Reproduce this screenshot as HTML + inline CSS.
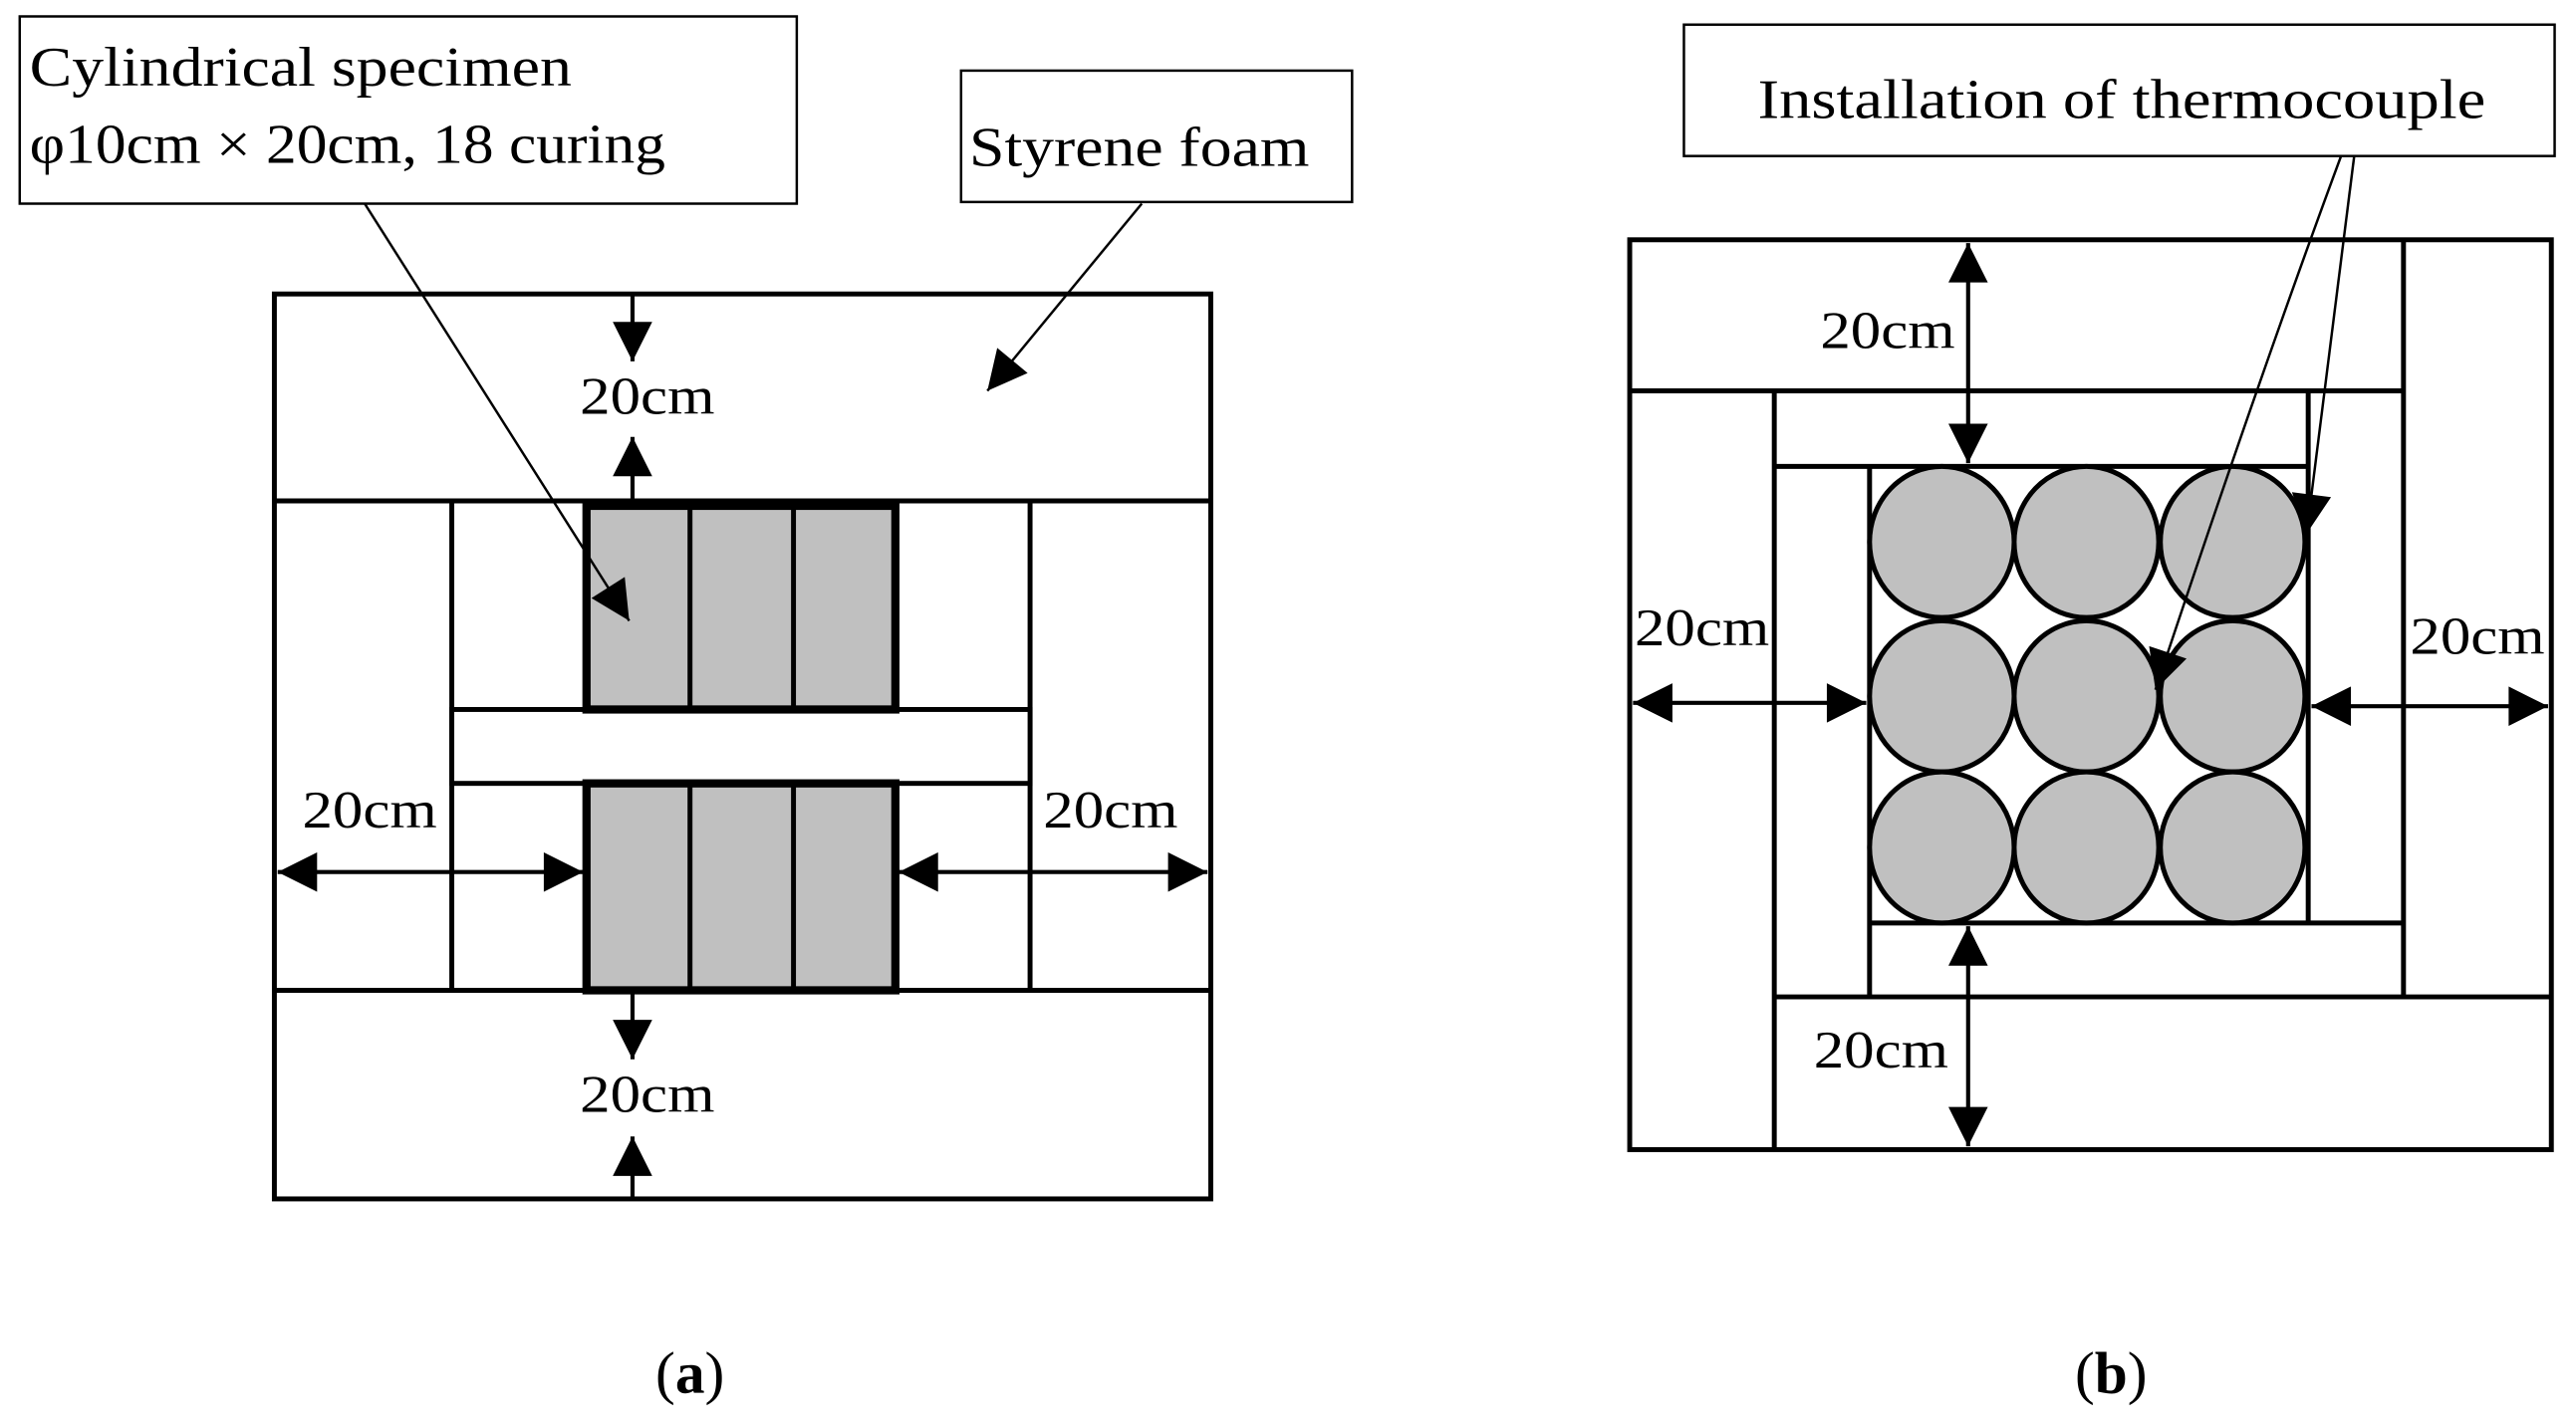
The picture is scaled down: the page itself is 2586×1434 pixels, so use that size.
<!DOCTYPE html>
<html><head><meta charset="utf-8"><style>
html,body{margin:0;padding:0;background:#fff;}
svg{display:block;}
text{font-family:"Liberation Serif",serif;fill:#000;}
</style></head><body>
<svg width="2586" height="1434" viewBox="0 0 1568 869.5" xmlns="http://www.w3.org/2000/svg">
<defs>
<marker id="big" viewBox="0 0 10 10" refX="10" refY="5" markerWidth="30" markerHeight="24" orient="auto-start-reverse" markerUnits="userSpaceOnUse"><path d="M0,0L10,5L0,10z" fill="#000"/></marker>
</defs>
<!-- (a) -->
<rect x="12" y="10" width="473" height="114" fill="#fff" stroke="#000" stroke-width="1.5"/>
<text x="18" y="52" font-size="34" textLength="330" lengthAdjust="spacingAndGlyphs">Cylindrical specimen</text>
<text x="18" y="99" font-size="34" textLength="387" lengthAdjust="spacingAndGlyphs">φ10cm × 20cm, 18 curing</text>
<rect x="585" y="43" width="238" height="80" fill="#fff" stroke="#000" stroke-width="1.5"/>
<text x="590" y="101" font-size="34" textLength="207" lengthAdjust="spacingAndGlyphs">Styrene foam</text>

<rect x="167" y="179" width="570" height="551" fill="none" stroke="#000" stroke-width="3"/>
<line x1="167" y1="305" x2="737" y2="305" stroke="#000" stroke-width="3"/>
<line x1="167" y1="603" x2="737" y2="603" stroke="#000" stroke-width="3"/>
<line x1="275" y1="305" x2="275" y2="603" stroke="#000" stroke-width="3"/>
<line x1="627" y1="305" x2="627" y2="603" stroke="#000" stroke-width="3"/>
<rect x="275" y="432" width="352" height="45" fill="#fff" stroke="#000" stroke-width="3"/>
<rect x="357" y="308" width="188" height="124" fill="#c0c0c0" stroke="#000" stroke-width="5"/>
<rect x="357" y="477" width="188" height="126" fill="#c0c0c0" stroke="#000" stroke-width="5"/>
<g stroke="#000" stroke-width="3">
<line x1="420" y1="308" x2="420" y2="432"/><line x1="483" y1="308" x2="483" y2="432"/>
<line x1="420" y1="477" x2="420" y2="603"/><line x1="483" y1="477" x2="483" y2="603"/>
</g>
<g stroke="#000" stroke-width="2.5">
<line x1="385" y1="179" x2="385" y2="220" marker-end="url(#big)"/>
<line x1="385" y1="305" x2="385" y2="266" marker-end="url(#big)"/>
<line x1="385" y1="603" x2="385" y2="645" marker-end="url(#big)"/>
<line x1="385" y1="730" x2="385" y2="692" marker-end="url(#big)"/>
<line x1="169" y1="531" x2="355" y2="531" marker-start="url(#big)" marker-end="url(#big)"/>
<line x1="547" y1="531" x2="735" y2="531" marker-start="url(#big)" marker-end="url(#big)"/>
</g>
<text x="353" y="252" font-size="32" textLength="82" lengthAdjust="spacingAndGlyphs">20cm</text>
<text x="353" y="677" font-size="32" textLength="82" lengthAdjust="spacingAndGlyphs">20cm</text>
<text x="184" y="504" font-size="32" textLength="82" lengthAdjust="spacingAndGlyphs">20cm</text>
<text x="635" y="504" font-size="32" textLength="82" lengthAdjust="spacingAndGlyphs">20cm</text>
<g stroke="#000" stroke-width="1.5">
<line x1="222" y1="124" x2="383" y2="378" marker-end="url(#big)"/>
<line x1="695" y1="124" x2="601" y2="238" marker-end="url(#big)"/>
</g>
<text x="420" y="848" font-size="36" text-anchor="middle">(<tspan font-weight="bold">a</tspan>)</text>

<!-- (b) -->
<rect x="1025" y="15" width="530" height="80" fill="#fff" stroke="#000" stroke-width="1.5"/>
<text x="1070" y="72" font-size="34" textLength="443" lengthAdjust="spacingAndGlyphs">Installation of thermocouple</text>
<rect x="992" y="146" width="561" height="554" fill="none" stroke="#000" stroke-width="3"/>
<g stroke="#000" stroke-width="3">
<line x1="992" y1="238" x2="1463" y2="238"/>
<line x1="1463" y1="146" x2="1463" y2="607"/>
<line x1="1080" y1="238" x2="1080" y2="700"/>
<line x1="1080" y1="607" x2="1553" y2="607"/>
<line x1="1080" y1="284" x2="1405" y2="284"/>
<line x1="1405" y1="238" x2="1405" y2="562"/>
<line x1="1138" y1="284" x2="1138" y2="607"/>
<line x1="1138" y1="562" x2="1463" y2="562"/>
</g>
<g fill="#c0c0c0" stroke="#000" stroke-width="3">
<ellipse cx="1182" cy="330" rx="44" ry="46"/><ellipse cx="1270" cy="330" rx="44" ry="46"/><ellipse cx="1359" cy="330" rx="44" ry="46"/>
<ellipse cx="1182" cy="424" rx="44" ry="46"/><ellipse cx="1270" cy="424" rx="44" ry="46"/><ellipse cx="1359" cy="424" rx="44" ry="46"/>
<ellipse cx="1182" cy="516" rx="44" ry="46"/><ellipse cx="1270" cy="516" rx="44" ry="46"/><ellipse cx="1359" cy="516" rx="44" ry="46"/>
</g>
<g stroke="#000" stroke-width="2.5">
<line x1="1198" y1="148" x2="1198" y2="282" marker-start="url(#big)" marker-end="url(#big)"/>
<line x1="1198" y1="564" x2="1198" y2="698" marker-start="url(#big)" marker-end="url(#big)"/>
<line x1="994" y1="428" x2="1136" y2="428" marker-start="url(#big)" marker-end="url(#big)"/>
<line x1="1407" y1="430" x2="1551" y2="430" marker-start="url(#big)" marker-end="url(#big)"/>
</g>
<text x="1108" y="212" font-size="32" textLength="82" lengthAdjust="spacingAndGlyphs">20cm</text>
<text x="1104" y="650" font-size="32" textLength="82" lengthAdjust="spacingAndGlyphs">20cm</text>
<text x="995" y="393" font-size="32" textLength="82" lengthAdjust="spacingAndGlyphs">20cm</text>
<text x="1467" y="398" font-size="32" textLength="82" lengthAdjust="spacingAndGlyphs">20cm</text>
<g stroke="#000" stroke-width="1.5">
<line x1="1433" y1="95" x2="1404" y2="325" marker-end="url(#big)"/>
<path d="M1425,95 Q1375,230 1312,420" fill="none" marker-end="url(#big)"/>
</g>
<text x="1285" y="848" font-size="36" text-anchor="middle">(<tspan font-weight="bold">b</tspan>)</text>
</svg>
</body></html>
